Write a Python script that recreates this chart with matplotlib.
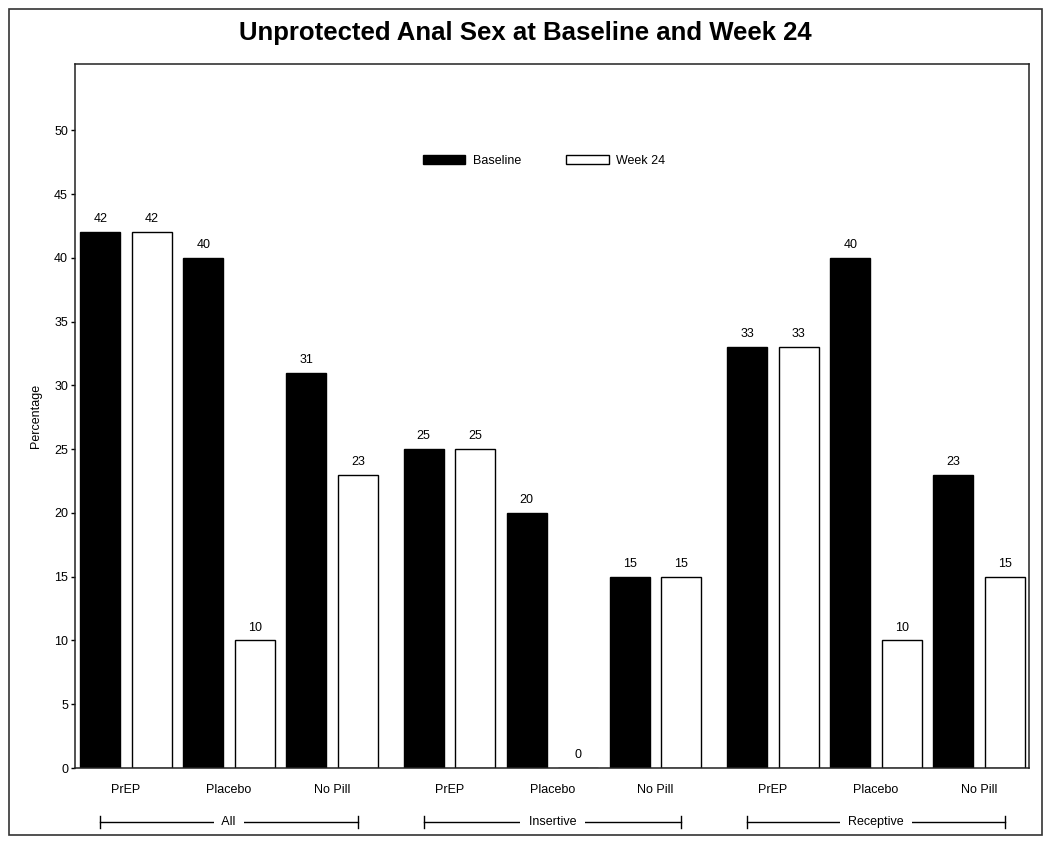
# Unprotected anal sex, baseline vs week 24, grouped bars
import matplotlib.pyplot as plt
import numpy as np
from matplotlib.patches import Rectangle
from matplotlib.transforms import blended_transform_factory

plt.rcParams['font.family'] = ['Liberation Sans', 'DejaVu Sans']

GROUPS = ['All', 'Insertive', 'Receptive']
ARMS = ['PrEP', 'Placebo', 'No Pill']
baseline = [42, 40, 31, 25, 20, 15, 33, 40, 23]
week24 = [42, 10, 23, 25, 0, 15, 33, 10, 15]
yticks = [0, 5, 10, 15, 20, 25, 30, 35, 40, 45, 50]

GROUP_STEP = 3.14
OFFSET = 0.25
WIDTH = 0.39

fig = plt.figure(figsize=(10.5, 8.47), dpi=100)
ax = fig.add_axes([75 / 1050, 1 - 768 / 847, (1029 - 75) / 1050, (768 - 64) / 847])

centers = np.array([g * GROUP_STEP + a for g in range(len(GROUPS)) for a in range(len(ARMS))])

b1 = ax.bar(centers - OFFSET, baseline, WIDTH, color='black', edgecolor='black',
            linewidth=1, label='Baseline')
b2 = ax.bar(centers + OFFSET, week24, WIDTH, color='white', edgecolor='black',
            linewidth=1, label='Week 24')
for bars, vals in ((b1, baseline), (b2, week24)):
    for r, v in zip(bars, vals):
        ax.annotate(str(v), (r.get_x() + r.get_width() / 2, v), xytext=(0, 5),
                    textcoords='offset points', ha='center', va='bottom', fontsize=9)

ax.set_xlim(centers[0] - 0.495, centers[-1] + 0.485)
ax.set_ylim(0, 55.2)
ax.set_yticks(yticks)
ax.tick_params(axis='y', direction='out', length=3, width=1, labelsize=9, pad=2)
ax.set_xticks([])
for s in ax.spines.values():
    s.set_linewidth(1.1)
    s.set_color('#222222')

ax.set_ylabel('Percentage', fontsize=9, labelpad=9)

# category labels and group brackets below the axis
trans = blended_transform_factory(ax.transData, ax.transAxes)
y_cat = -22 / 704
y_grp = -54 / 704
tick_h = 6 / 704
for c, name in zip(centers, ARMS * len(GROUPS)):
    ax.text(c, y_cat, name, transform=trans, ha='center', va='center', fontsize=9)
for g, name in enumerate(GROUPS):
    x0 = centers[g * 3] - OFFSET
    x1 = centers[g * 3 + 2] + OFFSET
    ax.plot([x0, x1], [y_grp, y_grp], color='black', lw=1, transform=trans, clip_on=False)
    for x in (x0, x1):
        ax.plot([x, x], [y_grp - tick_h, y_grp + tick_h], color='black', lw=1,
                transform=trans, clip_on=False)
    ax.text((x0 + x1) / 2, y_grp, '  ' + name + '  ', transform=trans, ha='center',
            va='center', fontsize=9,
            bbox=dict(facecolor='white', edgecolor='none', pad=1))

ax.legend(loc='center', bbox_to_anchor=(0.4916, 1 - 97 / 704), ncol=2, frameon=False,
          fontsize=9, handlelength=3.4, handleheight=0.8, columnspacing=3.6,
          handletextpad=0.6)

fig.text(0.5, 1 - 33 / 847, 'Unprotected Anal Sex at Baseline and Week 24',
         ha='center', va='center', fontsize=18.5, fontweight='bold')

# outer frame
fig.patches.append(Rectangle((9 / 1050, 1 - 835 / 847), (1042 - 9) / 1050, (835 - 9) / 847,
                             transform=fig.transFigure, fill=False, edgecolor='#333333',
                             linewidth=1.2))

fig.savefig('out.png', dpi=100)
